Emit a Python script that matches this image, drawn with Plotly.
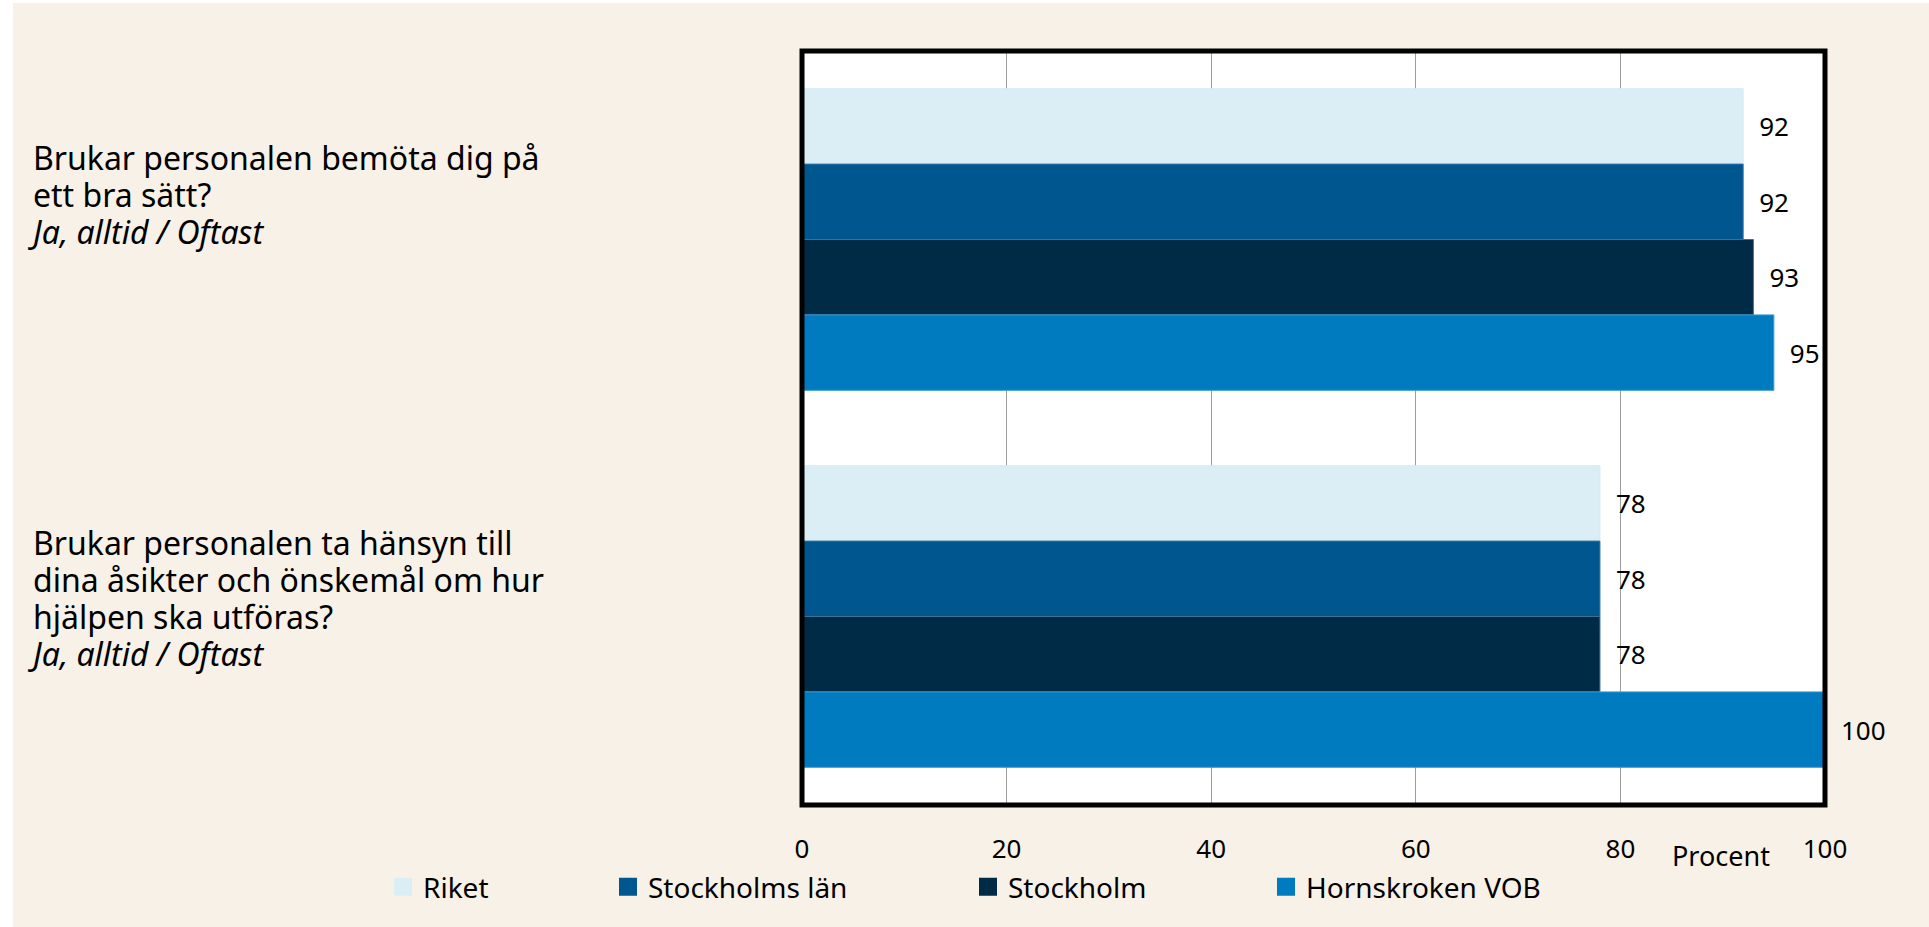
import plotly.graph_objects as go

# ---------------- data ----------------
categories = [
    "Brukar personalen bemöta dig på ett bra sätt?",
    "Brukar personalen ta hänsyn till dina åsikter och önskemål om hur hjälpen ska utföras?",
]
category_lines = [
    ["Brukar personalen bemöta dig på", "ett bra sätt?", "<i>Ja, alltid / Oftast</i>"],
    ["Brukar personalen ta hänsyn till", "dina åsikter och önskemål om hur",
     "hjälpen ska utföras?", "<i>Ja, alltid / Oftast</i>"],
]
series_names = ["Riket", "Stockholms län", "Stockholm", "Hornskroken VOB"]
riket = [92, 78]
stockholms_lan = [92, 78]
stockholm = [93, 78]
hornskroken = [95, 100]
series_values = [riket, stockholms_lan, stockholm, hornskroken]
x_ticks = [0, 20, 40, 60, 80, 100]
x_unit = "Procent"

# ---------------- styles ----------------
FONT = "Noto Sans"
BEIGE = "#F8F1E7"
colors = ["#DCEEF5", "#00578F", "#002B46", "#007BC0"]
edge_colors = ["#D6EAF3", "#2F72A6", "#3F6F8F", "#3D97CF"]

W, H = 1929, 927
ML, MR, MT, MB = 802, 104, 51, 122
PW = W - ML - MR
PH = H - MT - MB


def px_x(px):
    return (px - ML) / PW


def px_y(py):
    return 1 - (py - MT) / PH


fig = go.Figure()

for name, vals, col, lc in zip(series_names, series_values, colors, edge_colors):
    fig.add_trace(go.Bar(
        y=categories, x=vals, orientation="h", name=name,
        marker=dict(color=col, line=dict(color=lc, width=1)),
        texttemplate="\u2002%{x}", textposition="outside",
        outsidetextfont=dict(size=26, color="black", family=FONT),
        cliponaxis=False, showlegend=False,
    ))

# legend entries (one legend per item to match spacing)
legend_ids = ["legend", "legend2", "legend3", "legend4"]
swatch_centers = [403, 628, 988, 1286]
for name, col, lid in zip(series_names, colors, legend_ids):
    fig.add_trace(go.Scatter(
        x=[None], y=[None], mode="markers", name=name, legend=lid,
        marker=dict(symbol="square", size=16, color=col, line=dict(color=col, width=2)),
        showlegend=True, hoverinfo="skip",
    ))

legend_layouts = {}
for lid, cx in zip(legend_ids, swatch_centers):
    legend_layouts[lid] = dict(
        x=px_x(cx - 20), xanchor="left", y=px_y(887), yanchor="middle",
        orientation="h", font=dict(size=28, family=FONT, color="black"),
        bgcolor="rgba(0,0,0,0)", borderwidth=0,
    )

# question labels: one multi-line text per category (line pitch 37 px, glyphs 32 px)
LINE_PITCH = 37
annotations = []
top_shift = [106, 98]
for cat, lines, ts in zip(categories, category_lines, top_shift):
    text = "<br>".join('<span style="font-size:32px">%s</span>' % ln for ln in lines)
    annotations.append(dict(
        text=text, xref="paper", x=px_x(26), xanchor="left",
        yref="y", y=cat, yanchor="top", yshift=ts,
        showarrow=False, align="left",
        font=dict(size=LINE_PITCH / 1.3, family=FONT, color="black"),
    ))
annotations.append(dict(
    text=x_unit, xref="paper", x=px_x(1721), xanchor="center",
    yref="paper", y=px_y(855), yanchor="middle", showarrow=False,
    font=dict(size=27, family=FONT, color="black"),
))

shapes = [
    dict(type="rect", xref="paper", yref="paper", x0=px_x(13), x1=1.3,
         y0=-0.4, y1=px_y(3), fillcolor=BEIGE, line=dict(width=0), layer="below"),
    dict(type="rect", xref="paper", yref="paper", x0=0, x1=1, y0=0, y1=1,
         fillcolor="white", line=dict(width=0), layer="below"),
    dict(type="rect", xref="paper", yref="paper", x0=0, x1=1, y0=0, y1=1,
         fillcolor="rgba(0,0,0,0)", line=dict(width=5, color="black"), layer="above"),
]

fig.update_layout(
    width=W, height=H,
    margin=dict(l=ML, r=MR, t=MT, b=MB, autoexpand=False),
    paper_bgcolor="white", plot_bgcolor="white",
    barmode="group", bargap=0.2, bargroupgap=0,
    font=dict(family=FONT, color="black"),
    xaxis=dict(
        range=[0, 100], tickvals=x_ticks, showgrid=True, gridcolor="#9E9E9E",
        gridwidth=1, zeroline=False, showline=False, ticks="",
        ticklabelstandoff=26, tickfont=dict(size=26, family=FONT, color="black"),
    ),
    yaxis=dict(
        type="category", range=[1.5, -0.5], showticklabels=False,
        showgrid=False, zeroline=False, showline=False,
    ),
    annotations=annotations,
    shapes=shapes,
    **legend_layouts,
)

fig.write_html("out.html", config={"displayModeBar": False},
               post_script="document.body.style.margin='0';")
